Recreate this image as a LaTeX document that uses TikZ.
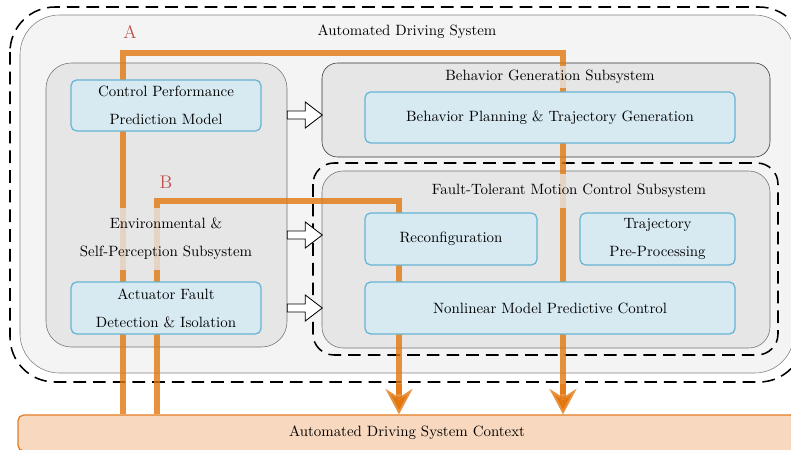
\documentclass[tikz,border=0pt]{standalone}
\usepackage{amsmath}
\usetikzlibrary{arrows.meta,fit,calc}
\definecolor{adsfill}{RGB}{244,244,244}
\definecolor{subfill}{RGB}{230,230,230}
\definecolor{modfill}{RGB}{215,234,242}
\definecolor{moddraw}{RGB}{104,180,212}
\definecolor{sigorange}{RGB}{226,119,16}
\definecolor{ctxfill}{RGB}{248,216,190}
\definecolor{ctxdraw}{RGB}{228,125,35}
\definecolor{labred}{RGB}{192,80,77}
\tikzset{%
  bigdash/.style={draw=black,line width=1.1pt,dash pattern=on 9pt off 5pt},
  sysbox/.style={draw=black!50,fill=adsfill,rounded corners=28pt,inner sep=0},
  subbox/.style={draw=black!55,fill=subfill,rounded corners=15pt,inner sep=0},
  modbox/.style={draw=moddraw,fill=modfill,line width=0.9pt,rounded corners=4pt,inner sep=0},
  titlenode/.style={fill=subfill,fill opacity=0.8,text opacity=1,inner sep=7pt,align=center},
  blockarr/.style={draw=black,fill=white,line width=0.6pt},
  sigline/.style={draw=sigorange,line width=4.6pt,draw opacity=0.8,
    -{Stealth[length=18pt,width=19pt,inset=6pt,fill=sigorange]}},
  sigplain/.style={draw=sigorange,line width=4.6pt,draw opacity=0.8},
  letter/.style={text=labred,font=\fontsize{13}{15}\selectfont}
}

\begin{document}
\begin{tikzpicture}[x=0.025cm,y=-0.025cm,font=\fontsize{10.6}{12.7}\selectfont]
    \useasboundingbox (0,0) rectangle (791,449);
    % system frames
    \draw[bigdash,rounded corners=32pt] (10,7) rectangle (804,382);
    \node[sysbox,fit={(20,15) (794,373)}] (ads) {};
    \node (adstitle) at (407,32) {Automated Driving System};
    \node[subbox,rounded corners=18pt,fit={(46,63) (287,347)}] (env) {};
    \node[subbox,draw=black!80,rounded corners=11pt,fit={(322,63) (770,157)}] (bgs) {};
    \draw[bigdash,rounded corners=15pt] (313,163) rectangle (778,355);
    \node[subbox,fit={(322,171) (770,348)}] (ftmc) {};
    % block arrows from perception
    \foreach \yy in {115,235,308}
      \draw[blockarr] (env.east |- 0,\yy) ++(0,-4) -- ++(18,0) -- ++(0,-9)
        -- ++(17,13) -- ++(-17,13) -- ++(0,-9) -- ++(-18,0) -- cycle;
    % context
    \node[draw=ctxdraw,fill=ctxfill,line width=0.9pt,rounded corners=4pt,inner sep=0,
      fit={(18,415) (796,451)}] (ctx) {};
    \node (ctxtitle) at (407,433) {Automated Driving System Context};
    % signal paths A and B
    \coordinate (acorner) at (123,53);
    \coordinate (aend) at (563,53);
    \coordinate (bcorner) at (157,201);
    \coordinate (bend) at (399,201);
    \draw[sigplain] (acorner |- ctx.north) -- (acorner) -- (aend) -- ($(aend |- ctx.north)+(0,-20)$);
    \draw[sigline] ($(aend |- ctx.north)+(0,-30)$) -- (aend |- ctx.north);
    \draw[sigplain] (bcorner |- ctx.north) -- (bcorner) -- (bend) -- ($(bend |- ctx.north)+(0,-20)$);
    \draw[sigline] ($(bend |- ctx.north)+(0,-30)$) -- (bend |- ctx.north);
    % modules
    \node[modbox,fit={(71,80) (261,131)}] (cppm) {};
    \node[modbox,fit={(71,282) (261,334)}] (afdi) {};
    \node[modbox,fit={(365,92) (735,143)}] (bptg) {};
    \node[modbox,fit={(365,213) (537,265)}] (reconf) {};
    \node[modbox,fit={(580,213) (735,265)}] (trajpre) {};
    \node[modbox,fit={(365,282) (735,334)}] (nmpc) {};
    \node[align=center] at (cppm) {Control Performance\\[7pt]Prediction Model};
    \node[align=center] at (afdi) {Actuator Fault\\[7pt]Detection \& Isolation};
    \node at (bptg) {Behavior Planning \& Trajectory Generation};
    \node at (reconf) {Reconfiguration};
    \node[align=center] at (trajpre) {Trajectory\\[7pt]Pre-Processing};
    \node at (nmpc) {Nonlinear Model Predictive Control};
    % subsystem titles
    \node[titlenode] (envtitle) at (166,239) {Environmental \&\\[7pt]Self-Perception Subsystem};
    \node[titlenode,inner ysep=3pt] (bgstitle) at (550,77) {Behavior Generation Subsystem};
    \node[titlenode] (ftmctitle) at (569,191) {Fault-Tolerant Motion Control Subsystem};
    % path labels
    \node[letter] (alabel) at (130,32) {A};
    \node[letter] (blabel) at (166,182) {B};
\end{tikzpicture}
\end{document}
